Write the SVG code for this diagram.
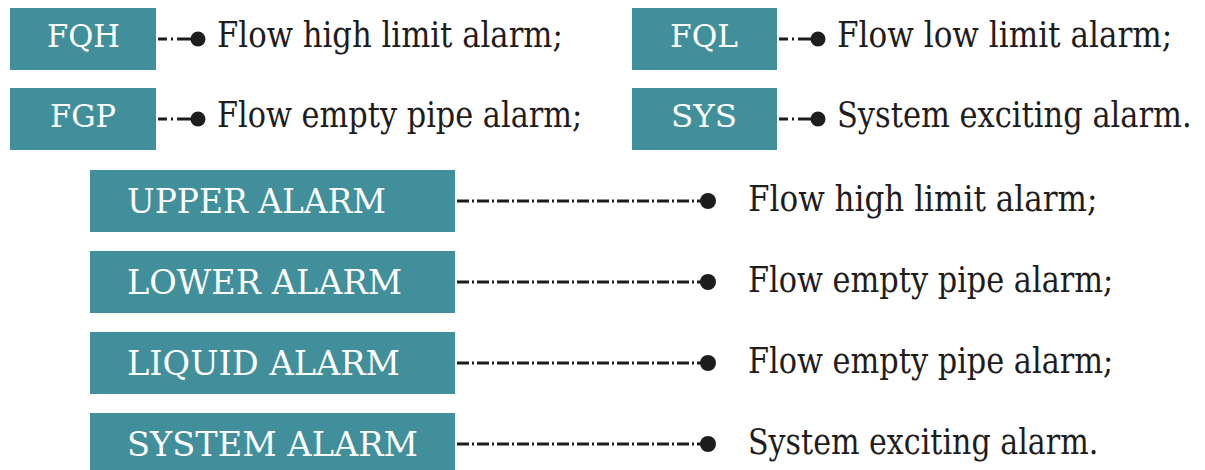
<svg xmlns="http://www.w3.org/2000/svg" width="1205" height="470" viewBox="0 0 1205 470">
<style>
.box{fill:#408f9b}
.bt{fill:#ffffff}
.lt{fill:#1e1c1c;font-size:35px}
.s{font-size:32px}
.b{font-size:34px}
.c1{stroke:#1e1c1c;stroke-width:3;fill:none;stroke-dasharray:9 4 2 4 40}
.c2{stroke:#1e1c1c;stroke-width:3;fill:none;stroke-dasharray:12 3 2 3}
.dot{fill:#1e1c1c}
</style>
<rect width="1205" height="470" fill="#ffffff"/>
<g font-family="DejaVu Serif, serif">
<g id="FQH"><rect class="box" x="10" y="8" width="146" height="62"/><text class="bt s" x="47" y="47" textLength="73" lengthAdjust="spacingAndGlyphs">FQH</text></g>
<g id="FGP"><rect class="box" x="10" y="88" width="146" height="62"/><text class="bt s" x="50" y="127" textLength="66" lengthAdjust="spacingAndGlyphs">FGP</text></g>
<g id="FQL"><rect class="box" x="632" y="8" width="145" height="62"/><text class="bt s" x="670" y="47" textLength="68" lengthAdjust="spacingAndGlyphs">FQL</text></g>
<g id="SYS"><rect class="box" x="632" y="88" width="145" height="62"/><text class="bt s" x="671" y="127" textLength="66" lengthAdjust="spacingAndGlyphs">SYS</text></g>
<g id="UPPER"><rect class="box" x="90" y="170" width="365" height="62"/><text class="bt b" x="127" y="213" textLength="259" lengthAdjust="spacingAndGlyphs">UPPER ALARM</text></g>
<g id="LOWER"><rect class="box" x="90" y="251" width="365" height="62"/><text class="bt b" x="127" y="294" textLength="275" lengthAdjust="spacingAndGlyphs">LOWER ALARM</text></g>
<g id="LIQUID"><rect class="box" x="90" y="332" width="365" height="62"/><text class="bt b" x="127" y="375" textLength="273" lengthAdjust="spacingAndGlyphs">LIQUID ALARM</text></g>
<g id="SYSTEM"><rect class="box" x="90" y="413" width="365" height="57"/><text class="bt b" x="127" y="456" textLength="291" lengthAdjust="spacingAndGlyphs">SYSTEM ALARM</text></g>
</g>
<g id="connectors">
<path class="c1" d="M158 39H192M158 119H192M779 39H813M779 119H813"/>
<circle class="dot" cx="198" cy="39" r="7.5"/><circle class="dot" cx="198" cy="119" r="7.5"/>
<circle class="dot" cx="818" cy="39" r="7.5"/><circle class="dot" cx="818" cy="119" r="7.5"/>
<path class="c2" d="M457 201H702M457 282H702M457 363H702M457 444H702"/>
<circle class="dot" cx="708" cy="201" r="8"/><circle class="dot" cx="708" cy="282" r="8"/>
<circle class="dot" cx="708" cy="363" r="8"/><circle class="dot" cx="708" cy="444" r="8"/>
</g>
<g id="labels" font-family="DejaVu Serif, serif">
<text class="lt" transform="translate(217 47) scale(0.88 1)" textLength="393" lengthAdjust="spacingAndGlyphs">Flow high limit alarm;</text>
<text class="lt" transform="translate(217 127) scale(0.88 1)" textLength="415" lengthAdjust="spacingAndGlyphs">Flow empty pipe alarm;</text>
<text class="lt" transform="translate(837 47) scale(0.88 1)" textLength="381" lengthAdjust="spacingAndGlyphs">Flow low limit alarm;</text>
<text class="lt" transform="translate(837 127) scale(0.88 1)" textLength="403" lengthAdjust="spacingAndGlyphs">System exciting alarm.</text>
<text class="lt" transform="translate(748 211) scale(0.88 1)" textLength="397" lengthAdjust="spacingAndGlyphs">Flow high limit alarm;</text>
<text class="lt" transform="translate(748 292) scale(0.88 1)" textLength="415" lengthAdjust="spacingAndGlyphs">Flow empty pipe alarm;</text>
<text class="lt" transform="translate(748 373) scale(0.88 1)" textLength="415" lengthAdjust="spacingAndGlyphs">Flow empty pipe alarm;</text>
<text class="lt" transform="translate(748 454) scale(0.88 1)" textLength="398" lengthAdjust="spacingAndGlyphs">System exciting alarm.</text>
</g>
</svg>
